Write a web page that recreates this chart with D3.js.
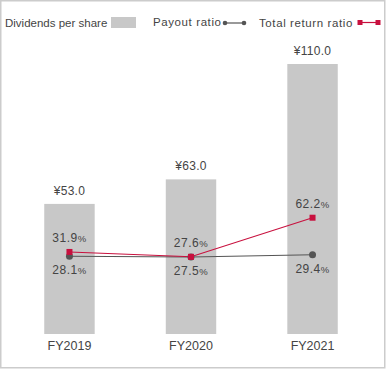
<!DOCTYPE html>
<html>
<head>
<meta charset="utf-8">
<script src="https://cdn.jsdelivr.net/npm/d3@7"></script>
<style>
  body { margin: 0; background: #fff; }
  svg text { font-family: "Liberation Sans", Arial, sans-serif; fill: #444; }
</style>
</head>
<body>
<div id="chart"></div>
<script>
// Data
const years = ["FY2019", "FY2020", "FY2021"];
const dividends = [53.0, 63.0, 110.0];
const payoutRatio = [28.1, 27.5, 29.4];
const totalReturnRatio = [31.9, 27.6, 62.2];

const width = 386;
const height = 370;

const barColor = "#c8c8c8";
const payoutColor = "#555555";
const returnColor = "#c8103e";

const svg = d3
  .select("#chart")
  .append("svg")
  .attr("width", width)
  .attr("height", height);

// frame
svg
  .append("rect")
  .attr("x", 0.75)
  .attr("y", 0.75)
  .attr("width", 384)
  .attr("height", 367)
  .attr("fill", "none")
  .attr("stroke", "#cccccc")
  .attr("stroke-width", 1.5);

// Scales
const x = d3.scaleBand().domain(years).range([9, 373]).paddingInner(0.585).paddingOuter(0.29);
const y = d3.scaleLinear().domain([0, 110]).range([334, 64]);
const yPct = d3.scaleLinear().domain([0, 100]).range([288, 175]);
const cx = (d) => x(d) + x.bandwidth() / 2;

// Bars
svg
  .selectAll(".bar")
  .data(years)
  .enter()
  .append("rect")
  .attr("class", "bar")
  .attr("x", (d) => x(d))
  .attr("y", (d, i) => y(dividends[i]))
  .attr("width", x.bandwidth())
  .attr("height", (d, i) => y(0) - y(dividends[i]))
  .attr("fill", barColor);

// Bar value labels
svg
  .selectAll(".bar-label")
  .data(years)
  .enter()
  .append("text")
  .attr("class", "bar-label")
  .attr("x", (d) => cx(d))
  .attr("y", (d, i) => y(dividends[i]) - 9)
  .attr("text-anchor", "middle")
  .style("font-size", "12px")
  .style("letter-spacing", "0.3px")
  .text((d, i) => "¥" + dividends[i].toFixed(1));

// Category labels (x-axis)
const xAxis = d3.axisBottom(x).tickSize(0).tickPadding(0);
const gx = svg.append("g").attr("transform", "translate(0,341)").call(xAxis);
gx.select(".domain").remove();
gx.selectAll("text")
  .attr("dy", "0.71em")
  .style("font-size", "12.5px")
  .style("font-family", "'Liberation Sans', Arial, sans-serif")
  .attr("fill", "#2a2a2a");

// Lines
const line = (vals) =>
  d3
    .line()
    .x((d) => cx(d))
    .y((d, i) => yPct(vals[i]))(years);

svg
  .append("path")
  .attr("d", line(payoutRatio))
  .attr("fill", "none")
  .attr("stroke", payoutColor)
  .attr("stroke-width", 1.1);

svg
  .append("path")
  .attr("d", line(totalReturnRatio))
  .attr("fill", "none")
  .attr("stroke", returnColor)
  .attr("stroke-width", 1.1);

// Payout dots
svg
  .selectAll(".payout-dot")
  .data(years)
  .enter()
  .append("circle")
  .attr("class", "payout-dot")
  .attr("cx", (d) => cx(d))
  .attr("cy", (d, i) => yPct(payoutRatio[i]))
  .attr("r", 3.5)
  .attr("fill", payoutColor);

// Total return squares
svg
  .selectAll(".return-sq")
  .data(years)
  .enter()
  .append("rect")
  .attr("class", "return-sq")
  .attr("x", (d) => cx(d) - 3)
  .attr("y", (d, i) => yPct(totalReturnRatio[i]) - 3)
  .attr("width", 6)
  .attr("height", 6)
  .attr("fill", returnColor);

// Percent labels
function pctLabel(sel, vals, dy) {
  const t = sel
    .append("text")
    .attr("x", (d) => cx(d))
    .attr("y", (d, i) => yPct(vals[i]) + dy)
    .attr("text-anchor", "middle")
    .style("font-size", "12px")
    .style("letter-spacing", "0.5px");
  t.append("tspan").text((d, i) => vals[i].toFixed(1));
  t.append("tspan").style("font-size", "9.5px").text("%");
}

pctLabel(svg.selectAll(".ret-label").data(years).enter().append("g"), totalReturnRatio, -10);
pctLabel(svg.selectAll(".pay-label").data(years).enter().append("g"), payoutRatio, 18);

// Legend
const legend = svg.append("g").attr("class", "legend");
legend
  .append("text")
  .attr("x", 5)
  .attr("y", 27)
  .style("font-size", "11.5px")
  .text("Dividends per share");
legend
  .append("rect")
  .attr("x", 111)
  .attr("y", 17)
  .attr("width", 25)
  .attr("height", 11)
  .attr("fill", barColor);

legend
  .append("text")
  .attr("x", 153)
  .attr("y", 26)
  .style("font-size", "11.5px")
  .style("letter-spacing", "0.6px")
  .text("Payout ratio");
legend
  .append("line")
  .attr("x1", 225)
  .attr("x2", 244)
  .attr("y1", 23)
  .attr("y2", 23)
  .attr("stroke", payoutColor)
  .attr("stroke-width", 1.2);
legend
  .selectAll(".lg-dot")
  .data([225, 244])
  .enter()
  .append("circle")
  .attr("cx", (d) => d)
  .attr("cy", 23)
  .attr("r", 2.3)
  .attr("fill", payoutColor);

legend
  .append("text")
  .attr("x", 259)
  .attr("y", 27)
  .style("font-size", "11.5px")
  .style("letter-spacing", "0.6px")
  .text("Total return ratio");
legend
  .append("line")
  .attr("x1", 360)
  .attr("x2", 378)
  .attr("y1", 22.5)
  .attr("y2", 22.5)
  .attr("stroke", returnColor)
  .attr("stroke-width", 1.2);
legend
  .selectAll(".lg-sq")
  .data([360, 378])
  .enter()
  .append("rect")
  .attr("x", (d) => d - 2.5)
  .attr("y", 20)
  .attr("width", 5)
  .attr("height", 5)
  .attr("fill", returnColor);
</script>
</body>
</html>
